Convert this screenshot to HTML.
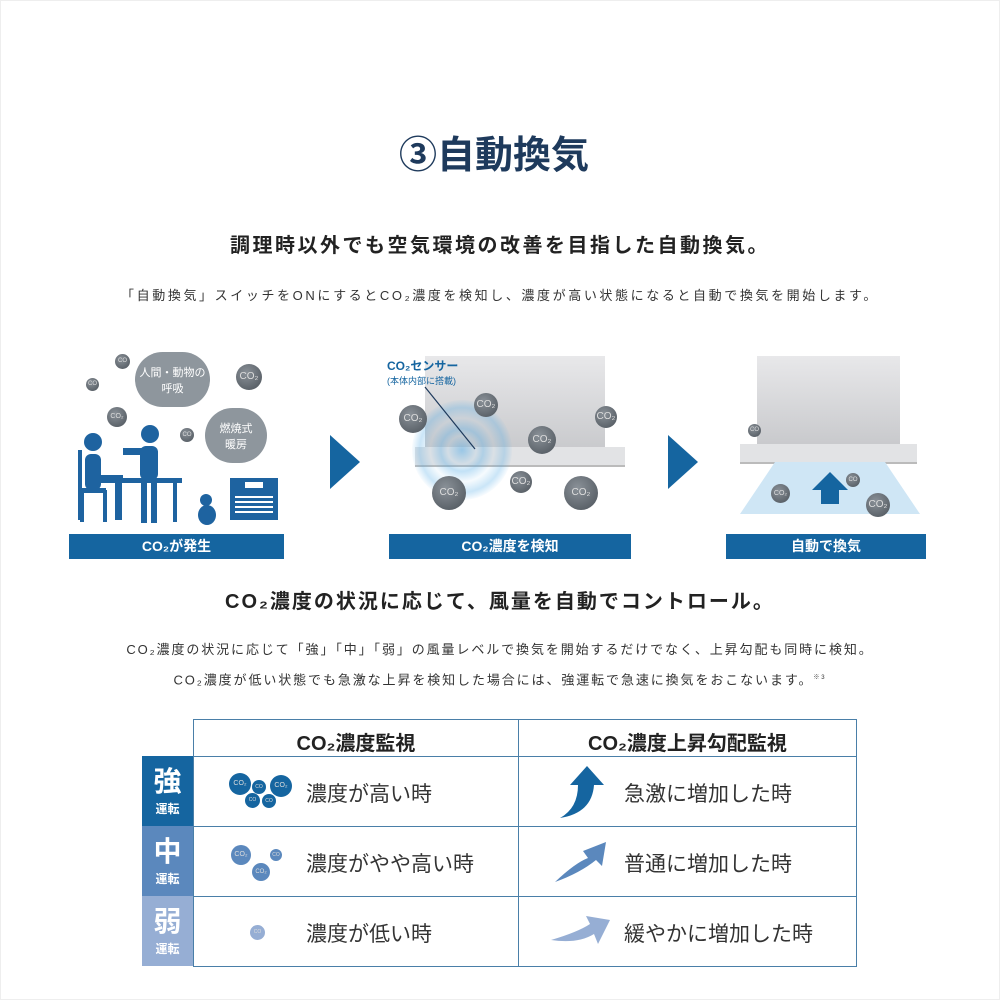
<!DOCTYPE html><html><head><meta charset="utf-8"><style>
body{margin:0;width:1000px;height:1000px;background:#fff;position:relative;overflow:hidden;font-family:"Liberation Sans","Noto Sans CJK JP",sans-serif;color:#222}
.a{position:absolute}
.c{text-align:center}
.bar{position:absolute;background:#1565a0;color:#fff;font-weight:bold;font-size:14px;text-align:center;line-height:25px;height:25px}
.co{position:absolute;border-radius:50%;background:radial-gradient(circle at 40% 35%,#8a9198,#4b5259);color:#ddd;font-size:10px;text-align:center}
.cell{position:absolute;border:1px solid #4a7fa8;box-sizing:border-box}
.lab{position:absolute;color:#fff;text-align:center;font-weight:bold}
.t{position:absolute;font-size:21px;color:#333}
</style></head><body>
<div style="position:absolute;left:0;top:0;width:1000px;height:1000px;border:1px solid #eee;box-sizing:border-box"></div>
<div class="a c" style="left:0;width:1000px;top:124px;font-size:38px;font-weight:bold;color:#1e3a5c;padding-right:12px;box-sizing:border-box">③自動換気</div>
<div class="a c" style="left:0;width:1000px;top:229px;font-size:20px;font-weight:bold;letter-spacing:2.5px">調理時以外でも空気環境の改善を目指した自動換気。</div>
<div class="a c" style="left:0;width:1000px;top:285px;font-size:13px;color:#333;letter-spacing:2.6px">「自動換気」スイッチをONにするとCO₂濃度を検知し、濃度が高い状態になると自動で換気を開始します。</div>

<!-- panel 1 -->
<div class="a" style="left:135px;top:352px;width:75px;height:55px;background:#8e969d;border-radius:30px;color:#fff;font-size:11px;text-align:center;padding-top:12px;box-sizing:border-box">人間・動物の<br>呼吸</div>
<div class="a" style="left:205px;top:408px;width:62px;height:55px;background:#8e969d;border-radius:28px;color:#fff;font-size:11px;text-align:center;padding-top:12px;box-sizing:border-box">燃焼式<br>暖房</div>
<div class="co" style="left:115px;top:354px;width:15px;height:15px;font-size:6px;line-height:15px">CO</div>
<div class="co" style="left:86px;top:378px;width:13px;height:13px;font-size:6px;line-height:13px">CO</div>
<div class="co" style="left:107px;top:407px;width:20px;height:20px;font-size:7px;line-height:20px">CO₂</div>
<div class="co" style="left:236px;top:364px;width:26px;height:26px;line-height:26px">CO₂</div>
<div class="co" style="left:180px;top:428px;width:14px;height:14px;font-size:6px;line-height:14px">CO</div>
<svg class="a" style="left:75px;top:420px" width="210" height="110"><g fill="#1e63a0">
<circle cx="18" cy="22" r="9"/><rect x="10" y="34" width="16" height="36" rx="6"/><rect x="18" y="55" width="30" height="8"/><rect x="40" y="55" width="7" height="45"/><rect x="3" y="30" width="4" height="70"/><rect x="3" y="68" width="28" height="5"/><rect x="5" y="70" width="4" height="32"/><rect x="28" y="70" width="4" height="32"/>
<circle cx="75" cy="14" r="9"/><rect x="65" y="26" width="18" height="34" rx="6"/><rect x="48" y="28" width="20" height="7"/><rect x="42" y="58" width="65" height="5"/><rect x="66" y="58" width="6" height="45"/><rect x="76" y="58" width="6" height="45"/><rect x="98" y="60" width="4" height="42"/>
<ellipse cx="132" cy="95" rx="9" ry="10"/><circle cx="131" cy="80" r="6"/>
<rect x="155" y="58" width="48" height="42"/></g><g fill="#fff"><rect x="170" y="62" width="18" height="6"/><rect x="160" y="76" width="38" height="2"/><rect x="160" y="81" width="38" height="2"/><rect x="160" y="86" width="38" height="2"/><rect x="160" y="91" width="38" height="2"/></g></svg>
<div class="bar" style="left:69px;top:534px;width:215px">CO₂が発生</div>

<svg class="a" style="left:330px;top:435px" width="30" height="55"><polygon points="0,0 30,27 0,54" fill="#1565a0"/></svg>
<svg class="a" style="left:668px;top:435px" width="30" height="55"><polygon points="0,0 30,27 0,54" fill="#1565a0"/></svg>

<!-- panel 2 -->
<div class="a" style="left:425px;top:356px;width:180px;height:95px;background:linear-gradient(#e8e8ea,#c8c9cc)"></div>
<div class="a" style="left:415px;top:447px;width:210px;height:18px;background:#e2e3e5;border-bottom:2px solid #bbb"></div>
<div class="a" style="left:412px;top:400px;width:100px;height:100px;border-radius:50%;background:radial-gradient(circle,rgba(80,170,230,.5) 0,rgba(80,170,230,.1) 20%,rgba(80,170,230,.35) 30%,rgba(80,170,230,.05) 45%,rgba(80,170,230,.3) 60%,rgba(80,170,230,.05) 70%)"></div>
<div class="a" style="left:387px;top:357px;color:#1565a0;font-size:12px;font-weight:bold">CO₂センサー</div>
<div class="a" style="left:387px;top:374px;color:#1565a0;font-size:9px">(本体内部に搭載)</div>
<svg class="a" style="left:420px;top:385px" width="60" height="70"><line x1="5" y1="2" x2="55" y2="64" stroke="#1e3a5c" stroke-width="1.2"/></svg>
<div class="co" style="left:399px;top:405px;width:28px;height:28px;line-height:28px">CO₂</div>
<div class="co" style="left:474px;top:393px;width:24px;height:24px;line-height:24px">CO₂</div>
<div class="co" style="left:528px;top:426px;width:28px;height:28px;line-height:28px">CO₂</div>
<div class="co" style="left:595px;top:406px;width:22px;height:22px;line-height:22px">CO₂</div>
<div class="co" style="left:432px;top:476px;width:34px;height:34px;line-height:34px">CO₂</div>
<div class="co" style="left:510px;top:471px;width:22px;height:22px;line-height:22px">CO₂</div>
<div class="co" style="left:564px;top:476px;width:34px;height:34px;line-height:34px">CO₂</div>
<div class="bar" style="left:389px;top:534px;width:242px">CO₂濃度を検知</div>

<!-- panel 3 -->
<div class="a" style="left:757px;top:356px;width:143px;height:90px;background:linear-gradient(#e8e8ea,#c8c9cc)"></div>
<div class="a" style="left:740px;top:444px;width:177px;height:18px;background:#e2e3e5;border-bottom:2px solid #bbb"></div>
<svg class="a" style="left:735px;top:462px" width="190" height="55"><polygon points="40,0 150,0 185,52 5,52" fill="#cfe6f5"/><polygon points="95,10 113,28 104,28 104,42 86,42 86,28 77,28" fill="#1565a0"/></svg>
<div class="co" style="left:748px;top:424px;width:13px;height:13px;font-size:6px;line-height:13px">CO</div>
<div class="co" style="left:771px;top:484px;width:19px;height:19px;font-size:7px;line-height:19px">CO₂</div>
<div class="co" style="left:846px;top:473px;width:14px;height:14px;font-size:6px;line-height:14px">CO</div>
<div class="co" style="left:866px;top:493px;width:24px;height:24px;line-height:24px">CO₂</div>
<div class="bar" style="left:726px;top:534px;width:200px">自動で換気</div>

<div class="a c" style="left:0;width:1000px;top:585px;font-size:20px;font-weight:bold;letter-spacing:2px">CO₂濃度の状況に応じて、風量を自動でコントロール。</div>
<div class="a c" style="left:0;width:1000px;top:636px;font-size:13px;color:#333;line-height:28px;letter-spacing:1.9px">CO₂濃度の状況に応じて「強」「中」「弱」の風量レベルで換気を開始するだけでなく、上昇勾配も同時に検知。<br>CO₂濃度が低い状態でも急激な上昇を検知した場合には、強運転で急速に換気をおこないます。<sup style="font-size:6px">※3</sup></div>

<!-- table -->
<div class="cell" style="left:193px;top:719px;width:326px;height:38px"></div>
<div class="cell" style="left:518px;top:719px;width:339px;height:38px"></div>
<div class="a c" style="left:193px;width:326px;top:727px;font-size:20px;font-weight:bold">CO₂濃度監視</div>
<div class="a c" style="left:518px;width:339px;top:727px;font-size:20px;font-weight:bold">CO₂濃度上昇勾配監視</div>
<div class="cell" style="left:193px;top:756px;width:326px;height:71px"></div><div class="cell" style="left:518px;top:756px;width:339px;height:71px"></div>
<div class="cell" style="left:193px;top:826px;width:326px;height:71px"></div><div class="cell" style="left:518px;top:826px;width:339px;height:71px"></div>
<div class="cell" style="left:193px;top:896px;width:326px;height:71px"></div><div class="cell" style="left:518px;top:896px;width:339px;height:71px"></div>
<div class="lab" style="left:142px;top:756px;width:51px;height:70px;background:#1565a0"><div style="font-size:28px;margin-top:4px">強</div><div style="font-size:12px">運転</div></div>
<div class="lab" style="left:142px;top:826px;width:51px;height:70px;background:#5b88bd"><div style="font-size:28px;margin-top:4px">中</div><div style="font-size:12px">運転</div></div>
<div class="lab" style="left:142px;top:896px;width:51px;height:70px;background:#96aed4"><div style="font-size:28px;margin-top:4px">弱</div><div style="font-size:12px">運転</div></div>

<div class="co" style="left:229px;top:773px;width:22px;height:22px;background:#1565a0;font-size:7px;line-height:22px">CO₂</div>
<div class="co" style="left:252px;top:780px;width:14px;height:14px;background:#1565a0;font-size:5px;line-height:14px">CO</div>
<div class="co" style="left:270px;top:775px;width:22px;height:22px;background:#1565a0;font-size:7px;line-height:22px">CO₂</div>
<div class="co" style="left:245px;top:793px;width:15px;height:15px;background:#1565a0;font-size:5px;line-height:15px">CO</div>
<div class="co" style="left:262px;top:794px;width:14px;height:14px;background:#1565a0;font-size:5px;line-height:14px">CO</div>
<div class="co" style="left:231px;top:845px;width:20px;height:20px;background:#5b88bd;font-size:7px;line-height:20px">CO₂</div>
<div class="co" style="left:270px;top:849px;width:12px;height:12px;background:#5b88bd;font-size:5px;line-height:12px">CO</div>
<div class="co" style="left:252px;top:863px;width:18px;height:18px;background:#5b88bd;font-size:6px;line-height:18px">CO₂</div>
<div class="co" style="left:250px;top:925px;width:15px;height:15px;background:#96aed4;font-size:5px;line-height:15px">CO</div>
<div class="t" style="left:306px;top:778px">濃度が高い時</div>
<div class="t" style="left:306px;top:848px">濃度がやや高い時</div>
<div class="t" style="left:306px;top:918px">濃度が低い時</div>

<svg class="a" style="left:550px;top:763px" width="60" height="60"><path d="M10,55 Q28,45 28,22 L20,22 L37,3 L54,22 L44,22 Q42,50 10,55Z" fill="#1565a0"/></svg>
<svg class="a" style="left:550px;top:838px" width="60" height="50"><path d="M5,44 Q25,25 38,20 L33,13 L56,4 L52,28 L46,22 Q30,35 5,44Z" fill="#5b88bd"/></svg>
<svg class="a" style="left:548px;top:910px" width="65" height="45"><path d="M3,30 Q30,22 42,14 L38,6 L62,10 L50,34 L46,24 Q30,34 3,30Z" fill="#96aed4"/></svg>
<div class="t" style="left:624px;top:778px">急激に増加した時</div>
<div class="t" style="left:624px;top:848px">普通に増加した時</div>
<div class="t" style="left:624px;top:918px">緩やかに増加した時</div>
</body></html>
